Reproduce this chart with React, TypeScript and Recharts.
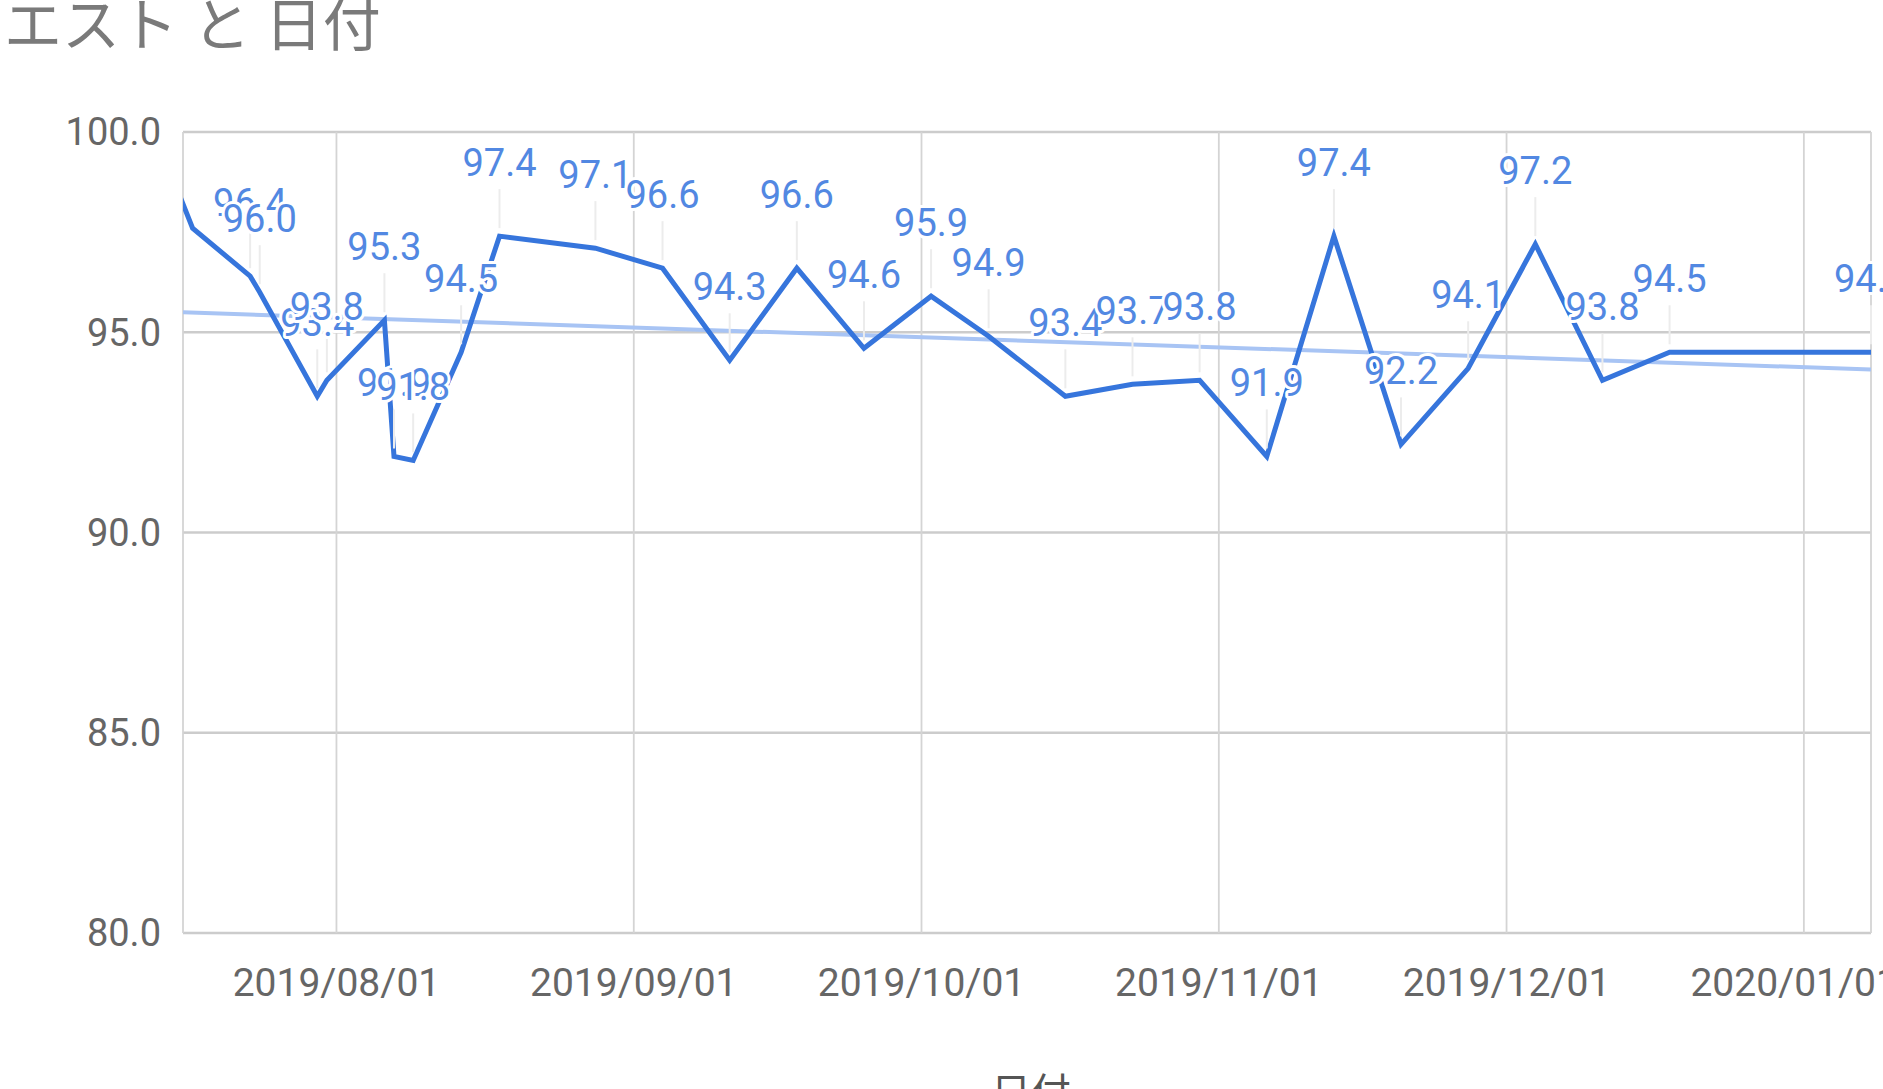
import { LineChart, Line, XAxis, YAxis, CartesianGrid, LabelList } from 'recharts'

// waist measurements (cm) by date
const dates = [
  '2019-07-15', '2019-07-17', '2019-07-23', '2019-07-24', '2019-07-30', '2019-07-31',
  '2019-08-06', '2019-08-07', '2019-08-09', '2019-08-14', '2019-08-18', '2019-08-28',
  '2019-09-04', '2019-09-11', '2019-09-18', '2019-09-25', '2019-10-02', '2019-10-08',
  '2019-10-16', '2019-10-23', '2019-10-30', '2019-11-06', '2019-11-13', '2019-11-20',
  '2019-11-27', '2019-12-04', '2019-12-11', '2019-12-18', '2020-01-08',
]
const waist = [
  98.8, 97.6, 96.4, 96.0, 93.4, 93.8,
  95.3, 91.9, 91.8, 94.5, 97.4, 97.1,
  96.6, 94.3, 96.6, 94.6, 95.9, 94.9,
  93.4, 93.7, 93.8, 91.9, 97.4, 92.2,
  94.1, 97.2, 93.8, 94.5, 94.5,
]
// points whose label is not shown in the picture
const noLabelDates = ['2019-07-15', '2019-07-17']

// linear trend, read at the two ends of the view window
const trendDates = ['2019-07-16', '2020-01-08']
const trendValues = [95.5, 94.07]

const monthTicks = ['2019-08-01', '2019-09-01', '2019-10-01', '2019-11-01', '2019-12-01', '2020-01-01']
const yTicks = [80, 85, 90, 95, 100]

const toT = (d: string) => Date.parse(d + 'T00:00:00Z')

const points = dates.map((d, i) => ({ t: toT(d), v: waist[i] }))
const trend = trendDates.map((d, i) => ({ t: toT(d), v: trendValues[i] }))

const fmtDate = (t: number) => {
  const d = new Date(t)
  const mm = String(d.getUTCMonth() + 1).padStart(2, '0')
  const dd = String(d.getUTCDate()).padStart(2, '0')
  return `${d.getUTCFullYear()}/${mm}/${dd}`
}

const FONT = 'Roboto, "Noto Sans CJK JP", sans-serif'

function Leader(props: any) {
  const { x, y, index } = props
  if (noLabelDates.includes(dates[index])) return null
  return <line x1={x} x2={x} y1={y - 47} y2={y - 8} stroke="#ececec" strokeWidth={2} />
}

function ValueLabel(props: any) {
  const { x, y, value, index } = props
  if (noLabelDates.includes(dates[index])) return null
  return (
    <text
      x={x}
      y={y - 60}
      textAnchor="middle"
      fontFamily={FONT}
      fontSize={38}
      fill="#5288e2"
      stroke="#ffffff"
      strokeWidth={6}
      strokeLinejoin="round"
      paintOrder="stroke"
    >
      {Number(value).toFixed(1)}
    </text>
  )
}

export default function App() {
  return (
    <div style={{ position: 'fixed', left: 0, top: 0, width: 1883, height: 1089, overflow: 'hidden', background: '#fff' }}>
      <svg width={1883} height={1089} style={{ position: 'absolute', left: 0, top: 0 }}>
        <text x={-54} y={46} fontFamily={FONT} fontSize={58} fill="#7a7a7a">ウエスト と 日付</text>
        <text x={1031} y={1107} textAnchor="middle" fontFamily={FONT} fontSize={40} fill="#555">日付</text>
      </svg>
      <div style={{ position: 'absolute', left: 0, top: 0 }}>
        <LineChart width={1883} height={1089} margin={{ top: 132, right: 12, bottom: 96, left: 83 }}>
          <CartesianGrid vertical={false} stroke="#cccccc" strokeWidth={2.5} />
          <CartesianGrid horizontal={false} stroke="#d4d4d4" strokeWidth={1.8} />
          <XAxis
            type="number"
            dataKey="t"
            domain={[toT('2019-07-16'), toT('2020-01-08')]}
            allowDataOverflow
            ticks={monthTicks.map(toT)}
            tickFormatter={fmtDate}
            axisLine={false}
            tickLine={false}
            tickSize={0}
            tickMargin={35}
            height={60}
            tick={{ fontSize: 39, fill: '#666', fontFamily: FONT }}
          />
          <YAxis
            type="number"
            domain={[80, 100]}
            ticks={yTicks}
            tickFormatter={(v: number) => v.toFixed(1)}
            width={100}
            axisLine={false}
            tickLine={false}
            tickSize={0}
            tickMargin={22}
            tick={{ fontSize: 38, fill: '#666', fontFamily: FONT }}
          />
          <Line data={trend} dataKey="v" stroke="#a8c4f4" strokeWidth={4} dot={false} isAnimationActive={false} />
          <Line data={points} dataKey="v" stroke="none" dot={false} isAnimationActive={false}>
            <LabelList dataKey="v" content={Leader} />
          </Line>
          <Line data={points} dataKey="v" stroke="#3675dc" strokeWidth={5} dot={false} isAnimationActive={false}>
            <LabelList dataKey="v" content={ValueLabel} />
          </Line>
        </LineChart>
      </div>
    </div>
  )
}
